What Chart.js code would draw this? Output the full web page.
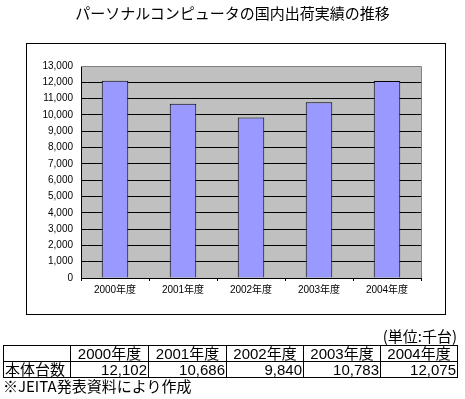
<!DOCTYPE html>
<html><head><meta charset="utf-8">
<script src="https://cdn.jsdelivr.net/npm/chart.js@4"></script>
<style>
html,body{margin:0;padding:0;background:#fff;width:465px;height:399px;overflow:hidden;}
body{position:relative;font-family:"Liberation Sans","Noto Sans CJK JP",sans-serif;}
#wrap{position:absolute;left:0;top:0;width:465px;height:399px;z-index:0;}
#title{position:absolute;left:0;width:465px;top:4px;text-align:center;font:15px "Noto Sans CJK JP";line-height:18px;color:#000;z-index:2;}
#unit{position:absolute;right:8px;top:328px;font:15px "Noto Sans CJK JP";line-height:16px;z-index:2;}
#note{position:absolute;left:3px;top:377px;font:15px "Noto Sans CJK JP";line-height:17px;z-index:2;}
table{position:absolute;left:3px;top:345px;border-collapse:collapse;font:15px "Liberation Sans","Noto Sans CJK JP";table-layout:fixed;z-index:2;}
td{border:1px solid #000;padding:0 1px;height:15px;line-height:15px;white-space:nowrap;overflow:hidden;}
td.h{text-align:center;}
td.n{text-align:right;}
</style></head><body>
<div id="wrap"><canvas id="c" width="465" height="399"></canvas></div>
<div id="title">パーソナルコンピュータの国内出荷実績の推移</div>
<div id="unit">(単位:千台)</div>
<table id="tbl"></table>
<div id="note">※JEITA発表資料により作成</div>
<script>
const categories = ["2000年度","2001年度","2002年度","2003年度","2004年度"];
const shipments = [12102, 10686, 9840, 10783, 12075];
const rowLabel = "本体台数";
const yTicksMax = 13000;
const yTickStep = 1000;

// table
const colW = [67,78,78,77,77,77];
const tbl = document.getElementById('tbl');
let html = '<colgroup>' + colW.map(w=>'<col style="width:'+w+'px">').join('') + '</colgroup>';
html += '<tr><td></td>' + categories.map(c=>'<td class="h">'+c+'</td>').join('') + '</tr>';
html += '<tr><td>'+rowLabel+'</td>' + shipments.map(v=>'<td class="n">'+v.toLocaleString('en-US')+'</td>').join('') + '</tr>';
tbl.innerHTML = html;

const decor = {
  id:'decor',
  beforeDraw(chart){
    const {ctx, chartArea:a} = chart;
    ctx.save();
    ctx.fillStyle='#fff';
    ctx.fillRect(0,0,chart.width,chart.height);
    ctx.strokeStyle='#000';ctx.lineWidth=1;
    ctx.strokeRect(26.5,43.5,419,271);
    ctx.fillStyle='#C0C0C0';
    ctx.fillRect(a.left,a.top,a.right-a.left,a.bottom-a.top);
    ctx.restore();
  }
};
const plotBorder = {
  id:'plotBorder',
  beforeDatasetsDraw(chart){
    const {ctx, chartArea:a} = chart;
    ctx.save();
    ctx.strokeStyle='#808080';ctx.lineWidth=1;
    ctx.beginPath();
    ctx.moveTo(a.left, Math.round(a.top)+0.5);
    ctx.lineTo(Math.round(a.right)+0.5, Math.round(a.top)+0.5);
    ctx.lineTo(Math.round(a.right)+0.5, a.bottom);
    ctx.stroke();
    ctx.restore();
  }
};

new Chart(document.getElementById('c'), {
  type:'bar',
  data:{labels:categories, datasets:[{
    data:shipments, backgroundColor:'#9999FF', borderColor:'#000', borderWidth:1,
    categoryPercentage:1, barPercentage:0.39
  }]},
  options:{
    responsive:false, animation:false, devicePixelRatio:1,
    layout:{padding:{left:26,top:66,right:44,bottom:101}},
    plugins:{legend:{display:false},tooltip:{enabled:false},title:{display:false}},
    scales:{
      x:{
        offset:true,
        grid:{offset:true,drawOnChartArea:false,drawTicks:true,tickLength:3,color:'#000'},
        border:{color:'#000',width:1},
        ticks:{color:'#000',font:{size:10,family:'"Liberation Sans","Noto Sans CJK JP"'},padding:3,maxRotation:0},
        afterFit(s){s.height=20;}
      },
      y:{
        min:0,max:yTicksMax,
        grid:{color:(c)=> c.tick && c.tick.value===yTicksMax ? '#808080' : '#000', drawTicks:false, lineWidth:1},
        border:{color:'#000',width:1},
        ticks:{stepSize:yTickStep,color:'#000',padding:8,
          font:{size:10,family:'"Liberation Sans","Noto Sans CJK JP"'},
          callback:(v)=>v.toLocaleString('en-US')},
        afterFit(s){s.width=55;}
      }
    }
  },
  plugins:[decor, plotBorder]
});
</script>
</body></html>
